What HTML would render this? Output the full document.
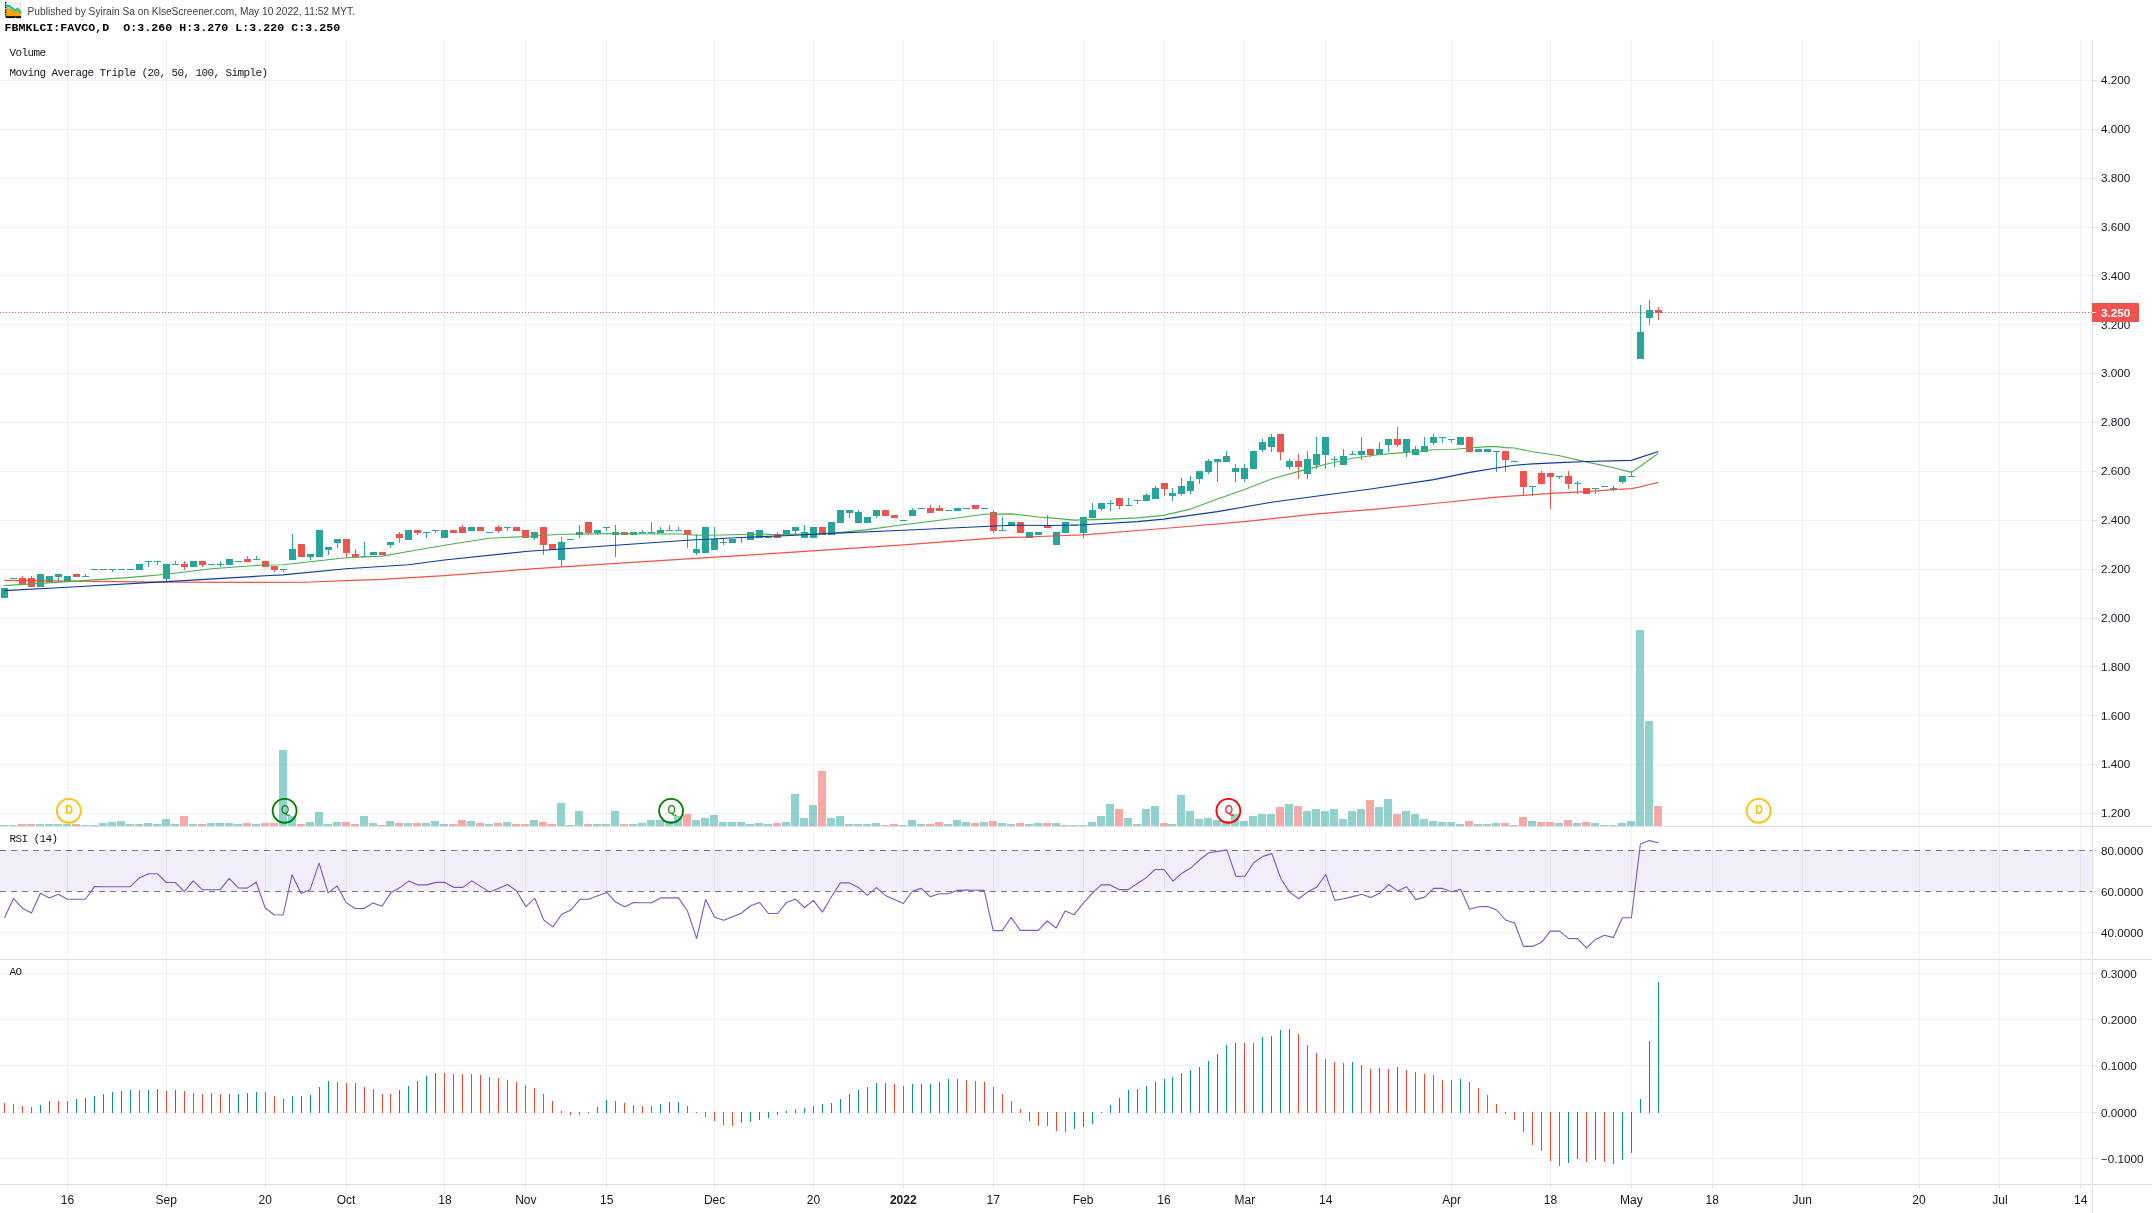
<!DOCTYPE html>
<html><head><meta charset="utf-8"><title>FBMKLCI:FAVCO</title>
<style>
html,body{margin:0;padding:0;background:#fff;}
body{width:2152px;height:1213px;overflow:hidden;position:relative;font-family:"Liberation Sans",sans-serif;}
svg text{white-space:pre;}
</style></head><body>
<svg width="2152" height="1213" viewBox="0 0 2152 1213" style="position:absolute;left:0;top:0;will-change:transform">
<rect width="2152" height="1213" fill="#fff"/>
<g shape-rendering="crispEdges">
<rect x="0" y="850" width="2092" height="41" fill="#f2eef9"/>
<rect x="67" y="40" width="1" height="1144" fill="#1e2828" fill-opacity="0.058"/>
<rect x="67" y="1185" width="1" height="3" fill="#dddfe2"/>
<rect x="166" y="40" width="1" height="1144" fill="#1e2828" fill-opacity="0.058"/>
<rect x="166" y="1185" width="1" height="3" fill="#dddfe2"/>
<rect x="265" y="40" width="1" height="1144" fill="#1e2828" fill-opacity="0.058"/>
<rect x="265" y="1185" width="1" height="3" fill="#dddfe2"/>
<rect x="346" y="40" width="1" height="1144" fill="#1e2828" fill-opacity="0.058"/>
<rect x="346" y="1185" width="1" height="3" fill="#dddfe2"/>
<rect x="444" y="40" width="1" height="1144" fill="#1e2828" fill-opacity="0.058"/>
<rect x="444" y="1185" width="1" height="3" fill="#dddfe2"/>
<rect x="525" y="40" width="1" height="1144" fill="#1e2828" fill-opacity="0.058"/>
<rect x="525" y="1185" width="1" height="3" fill="#dddfe2"/>
<rect x="606" y="40" width="1" height="1144" fill="#1e2828" fill-opacity="0.058"/>
<rect x="606" y="1185" width="1" height="3" fill="#dddfe2"/>
<rect x="714" y="40" width="1" height="1144" fill="#1e2828" fill-opacity="0.058"/>
<rect x="714" y="1185" width="1" height="3" fill="#dddfe2"/>
<rect x="813" y="40" width="1" height="1144" fill="#1e2828" fill-opacity="0.058"/>
<rect x="813" y="1185" width="1" height="3" fill="#dddfe2"/>
<rect x="903" y="40" width="1" height="1144" fill="#1e2828" fill-opacity="0.058"/>
<rect x="903" y="1185" width="1" height="3" fill="#dddfe2"/>
<rect x="993" y="40" width="1" height="1144" fill="#1e2828" fill-opacity="0.058"/>
<rect x="993" y="1185" width="1" height="3" fill="#dddfe2"/>
<rect x="1083" y="40" width="1" height="1144" fill="#1e2828" fill-opacity="0.058"/>
<rect x="1083" y="1185" width="1" height="3" fill="#dddfe2"/>
<rect x="1164" y="40" width="1" height="1144" fill="#1e2828" fill-opacity="0.058"/>
<rect x="1164" y="1185" width="1" height="3" fill="#dddfe2"/>
<rect x="1244" y="40" width="1" height="1144" fill="#1e2828" fill-opacity="0.058"/>
<rect x="1244" y="1185" width="1" height="3" fill="#dddfe2"/>
<rect x="1325" y="40" width="1" height="1144" fill="#1e2828" fill-opacity="0.058"/>
<rect x="1325" y="1185" width="1" height="3" fill="#dddfe2"/>
<rect x="1451" y="40" width="1" height="1144" fill="#1e2828" fill-opacity="0.058"/>
<rect x="1451" y="1185" width="1" height="3" fill="#dddfe2"/>
<rect x="1550" y="40" width="1" height="1144" fill="#1e2828" fill-opacity="0.058"/>
<rect x="1550" y="1185" width="1" height="3" fill="#dddfe2"/>
<rect x="1631" y="40" width="1" height="1144" fill="#1e2828" fill-opacity="0.058"/>
<rect x="1631" y="1185" width="1" height="3" fill="#dddfe2"/>
<rect x="1712" y="40" width="1" height="1144" fill="#1e2828" fill-opacity="0.058"/>
<rect x="1712" y="1185" width="1" height="3" fill="#dddfe2"/>
<rect x="1802" y="40" width="1" height="1144" fill="#1e2828" fill-opacity="0.058"/>
<rect x="1802" y="1185" width="1" height="3" fill="#dddfe2"/>
<rect x="1919" y="40" width="1" height="1144" fill="#1e2828" fill-opacity="0.058"/>
<rect x="1919" y="1185" width="1" height="3" fill="#dddfe2"/>
<rect x="1999" y="40" width="1" height="1144" fill="#1e2828" fill-opacity="0.058"/>
<rect x="1999" y="1185" width="1" height="3" fill="#dddfe2"/>
<rect x="2080" y="40" width="1" height="1144" fill="#1e2828" fill-opacity="0.058"/>
<rect x="2080" y="1185" width="1" height="3" fill="#dddfe2"/>
<rect x="0" y="80" width="2092" height="1" fill="#1e2828" fill-opacity="0.058"/>
<rect x="2093" y="80" width="4" height="1" fill="#dddfe2"/>
<rect x="0" y="129" width="2092" height="1" fill="#1e2828" fill-opacity="0.058"/>
<rect x="2093" y="129" width="4" height="1" fill="#dddfe2"/>
<rect x="0" y="178" width="2092" height="1" fill="#1e2828" fill-opacity="0.058"/>
<rect x="2093" y="178" width="4" height="1" fill="#dddfe2"/>
<rect x="0" y="227" width="2092" height="1" fill="#1e2828" fill-opacity="0.058"/>
<rect x="2093" y="227" width="4" height="1" fill="#dddfe2"/>
<rect x="0" y="275" width="2092" height="1" fill="#1e2828" fill-opacity="0.058"/>
<rect x="2093" y="275" width="4" height="1" fill="#dddfe2"/>
<rect x="0" y="324" width="2092" height="1" fill="#1e2828" fill-opacity="0.058"/>
<rect x="2093" y="324" width="4" height="1" fill="#dddfe2"/>
<rect x="0" y="373" width="2092" height="1" fill="#1e2828" fill-opacity="0.058"/>
<rect x="2093" y="373" width="4" height="1" fill="#dddfe2"/>
<rect x="0" y="422" width="2092" height="1" fill="#1e2828" fill-opacity="0.058"/>
<rect x="2093" y="422" width="4" height="1" fill="#dddfe2"/>
<rect x="0" y="471" width="2092" height="1" fill="#1e2828" fill-opacity="0.058"/>
<rect x="2093" y="471" width="4" height="1" fill="#dddfe2"/>
<rect x="0" y="520" width="2092" height="1" fill="#1e2828" fill-opacity="0.058"/>
<rect x="2093" y="520" width="4" height="1" fill="#dddfe2"/>
<rect x="0" y="569" width="2092" height="1" fill="#1e2828" fill-opacity="0.058"/>
<rect x="2093" y="569" width="4" height="1" fill="#dddfe2"/>
<rect x="0" y="618" width="2092" height="1" fill="#1e2828" fill-opacity="0.058"/>
<rect x="2093" y="618" width="4" height="1" fill="#dddfe2"/>
<rect x="0" y="666" width="2092" height="1" fill="#1e2828" fill-opacity="0.058"/>
<rect x="2093" y="666" width="4" height="1" fill="#dddfe2"/>
<rect x="0" y="715" width="2092" height="1" fill="#1e2828" fill-opacity="0.058"/>
<rect x="2093" y="715" width="4" height="1" fill="#dddfe2"/>
<rect x="0" y="764" width="2092" height="1" fill="#1e2828" fill-opacity="0.058"/>
<rect x="2093" y="764" width="4" height="1" fill="#dddfe2"/>
<rect x="0" y="813" width="2092" height="1" fill="#1e2828" fill-opacity="0.058"/>
<rect x="2093" y="813" width="4" height="1" fill="#dddfe2"/>
<rect x="0" y="932" width="2092" height="1" fill="#1e2828" fill-opacity="0.058"/>
<rect x="2093" y="850" width="4" height="1" fill="#dddfe2"/>
<rect x="2093" y="891" width="4" height="1" fill="#dddfe2"/>
<rect x="2093" y="932" width="4" height="1" fill="#dddfe2"/>
<rect x="0" y="973" width="2092" height="1" fill="#1e2828" fill-opacity="0.058"/>
<rect x="2093" y="973" width="4" height="1" fill="#dddfe2"/>
<rect x="0" y="1019" width="2092" height="1" fill="#1e2828" fill-opacity="0.058"/>
<rect x="2093" y="1019" width="4" height="1" fill="#dddfe2"/>
<rect x="0" y="1065" width="2092" height="1" fill="#1e2828" fill-opacity="0.058"/>
<rect x="2093" y="1065" width="4" height="1" fill="#dddfe2"/>
<rect x="0" y="1112" width="2092" height="1" fill="#1e2828" fill-opacity="0.058"/>
<rect x="2093" y="1112" width="4" height="1" fill="#dddfe2"/>
<rect x="0" y="1158" width="2092" height="1" fill="#1e2828" fill-opacity="0.058"/>
<rect x="2093" y="1158" width="4" height="1" fill="#dddfe2"/>
<rect x="0" y="826" width="2152" height="1" fill="#dddfe2"/>
<rect x="0" y="959" width="2152" height="1" fill="#dddfe2"/>
<rect x="0" y="1184" width="2152" height="1" fill="#dddfe2"/>
<rect x="2092" y="40" width="1" height="1173" fill="#dddfe2"/>
</g>
<line x1="0" y1="850.5" x2="2092" y2="850.5" stroke="#787b86" stroke-width="1" stroke-dasharray="6 5" shape-rendering="crispEdges"/>
<line x1="0" y1="891.5" x2="2092" y2="891.5" stroke="#787b86" stroke-width="1" stroke-dasharray="6 5" shape-rendering="crispEdges"/>
<g shape-rendering="crispEdges">
<rect x="0" y="825" width="8" height="1" fill="#26a69a" fill-opacity="0.5"/>
<rect x="9" y="825" width="8" height="1" fill="#26a69a" fill-opacity="0.5"/>
<rect x="18" y="824" width="8" height="2" fill="#ef5350" fill-opacity="0.5"/>
<rect x="27" y="824" width="8" height="2" fill="#ef5350" fill-opacity="0.5"/>
<rect x="36" y="824" width="8" height="2" fill="#26a69a" fill-opacity="0.5"/>
<rect x="45" y="824" width="8" height="2" fill="#26a69a" fill-opacity="0.5"/>
<rect x="54" y="824" width="8" height="2" fill="#26a69a" fill-opacity="0.5"/>
<rect x="63" y="824" width="8" height="2" fill="#26a69a" fill-opacity="0.5"/>
<rect x="72" y="824" width="8" height="2" fill="#ef5350" fill-opacity="0.5"/>
<rect x="81" y="825" width="8" height="1" fill="#26a69a" fill-opacity="0.5"/>
<rect x="90" y="825" width="8" height="1" fill="#26a69a" fill-opacity="0.5"/>
<rect x="99" y="823" width="8" height="3" fill="#26a69a" fill-opacity="0.5"/>
<rect x="108" y="822" width="8" height="4" fill="#26a69a" fill-opacity="0.5"/>
<rect x="117" y="821" width="8" height="5" fill="#26a69a" fill-opacity="0.5"/>
<rect x="126" y="824" width="8" height="2" fill="#26a69a" fill-opacity="0.5"/>
<rect x="135" y="824" width="8" height="2" fill="#26a69a" fill-opacity="0.5"/>
<rect x="144" y="823" width="8" height="3" fill="#26a69a" fill-opacity="0.5"/>
<rect x="153" y="824" width="8" height="2" fill="#26a69a" fill-opacity="0.5"/>
<rect x="162" y="819" width="8" height="7" fill="#26a69a" fill-opacity="0.5"/>
<rect x="171" y="824" width="8" height="2" fill="#26a69a" fill-opacity="0.5"/>
<rect x="180" y="816" width="8" height="10" fill="#ef5350" fill-opacity="0.5"/>
<rect x="189" y="824" width="8" height="2" fill="#26a69a" fill-opacity="0.5"/>
<rect x="198" y="824" width="8" height="2" fill="#ef5350" fill-opacity="0.5"/>
<rect x="207" y="823" width="8" height="3" fill="#26a69a" fill-opacity="0.5"/>
<rect x="216" y="823" width="8" height="3" fill="#26a69a" fill-opacity="0.5"/>
<rect x="225" y="823" width="8" height="3" fill="#26a69a" fill-opacity="0.5"/>
<rect x="234" y="824" width="8" height="2" fill="#26a69a" fill-opacity="0.5"/>
<rect x="243" y="823" width="8" height="3" fill="#ef5350" fill-opacity="0.5"/>
<rect x="252" y="824" width="8" height="2" fill="#26a69a" fill-opacity="0.5"/>
<rect x="261" y="823" width="8" height="3" fill="#ef5350" fill-opacity="0.5"/>
<rect x="270" y="823" width="8" height="3" fill="#ef5350" fill-opacity="0.5"/>
<rect x="279" y="750" width="8" height="76" fill="#26a69a" fill-opacity="0.5"/>
<rect x="288" y="816" width="8" height="10" fill="#26a69a" fill-opacity="0.5"/>
<rect x="297" y="824" width="8" height="2" fill="#ef5350" fill-opacity="0.5"/>
<rect x="306" y="822" width="8" height="4" fill="#26a69a" fill-opacity="0.5"/>
<rect x="315" y="812" width="8" height="14" fill="#26a69a" fill-opacity="0.5"/>
<rect x="324" y="824" width="8" height="2" fill="#26a69a" fill-opacity="0.5"/>
<rect x="333" y="822" width="8" height="4" fill="#26a69a" fill-opacity="0.5"/>
<rect x="342" y="822" width="8" height="4" fill="#ef5350" fill-opacity="0.5"/>
<rect x="351" y="824" width="8" height="2" fill="#ef5350" fill-opacity="0.5"/>
<rect x="360" y="816" width="8" height="10" fill="#26a69a" fill-opacity="0.5"/>
<rect x="369" y="823" width="8" height="3" fill="#26a69a" fill-opacity="0.5"/>
<rect x="378" y="825" width="8" height="1" fill="#ef5350" fill-opacity="0.5"/>
<rect x="386" y="821" width="8" height="5" fill="#26a69a" fill-opacity="0.5"/>
<rect x="395" y="823" width="8" height="3" fill="#ef5350" fill-opacity="0.5"/>
<rect x="404" y="823" width="8" height="3" fill="#26a69a" fill-opacity="0.5"/>
<rect x="413" y="823" width="8" height="3" fill="#ef5350" fill-opacity="0.5"/>
<rect x="422" y="823" width="8" height="3" fill="#26a69a" fill-opacity="0.5"/>
<rect x="431" y="821" width="8" height="5" fill="#26a69a" fill-opacity="0.5"/>
<rect x="440" y="824" width="8" height="2" fill="#26a69a" fill-opacity="0.5"/>
<rect x="449" y="824" width="8" height="2" fill="#ef5350" fill-opacity="0.5"/>
<rect x="458" y="820" width="8" height="6" fill="#ef5350" fill-opacity="0.5"/>
<rect x="467" y="821" width="8" height="5" fill="#26a69a" fill-opacity="0.5"/>
<rect x="476" y="823" width="8" height="3" fill="#ef5350" fill-opacity="0.5"/>
<rect x="485" y="824" width="8" height="2" fill="#26a69a" fill-opacity="0.5"/>
<rect x="494" y="823" width="8" height="3" fill="#ef5350" fill-opacity="0.5"/>
<rect x="503" y="822" width="8" height="4" fill="#26a69a" fill-opacity="0.5"/>
<rect x="512" y="824" width="8" height="2" fill="#ef5350" fill-opacity="0.5"/>
<rect x="521" y="824" width="8" height="2" fill="#ef5350" fill-opacity="0.5"/>
<rect x="530" y="820" width="8" height="6" fill="#26a69a" fill-opacity="0.5"/>
<rect x="539" y="822" width="8" height="4" fill="#ef5350" fill-opacity="0.5"/>
<rect x="548" y="824" width="8" height="2" fill="#ef5350" fill-opacity="0.5"/>
<rect x="557" y="803" width="8" height="23" fill="#26a69a" fill-opacity="0.5"/>
<rect x="566" y="825" width="8" height="1" fill="#26a69a" fill-opacity="0.5"/>
<rect x="575" y="811" width="8" height="15" fill="#26a69a" fill-opacity="0.5"/>
<rect x="584" y="824" width="8" height="2" fill="#ef5350" fill-opacity="0.5"/>
<rect x="593" y="824" width="8" height="2" fill="#26a69a" fill-opacity="0.5"/>
<rect x="602" y="824" width="8" height="2" fill="#26a69a" fill-opacity="0.5"/>
<rect x="611" y="811" width="8" height="15" fill="#26a69a" fill-opacity="0.5"/>
<rect x="620" y="824" width="8" height="2" fill="#ef5350" fill-opacity="0.5"/>
<rect x="629" y="824" width="8" height="2" fill="#26a69a" fill-opacity="0.5"/>
<rect x="638" y="823" width="8" height="3" fill="#26a69a" fill-opacity="0.5"/>
<rect x="647" y="820" width="8" height="6" fill="#26a69a" fill-opacity="0.5"/>
<rect x="656" y="820" width="8" height="6" fill="#26a69a" fill-opacity="0.5"/>
<rect x="665" y="821" width="8" height="5" fill="#26a69a" fill-opacity="0.5"/>
<rect x="674" y="816" width="8" height="10" fill="#26a69a" fill-opacity="0.5"/>
<rect x="683" y="814" width="8" height="12" fill="#ef5350" fill-opacity="0.5"/>
<rect x="692" y="820" width="8" height="6" fill="#26a69a" fill-opacity="0.5"/>
<rect x="701" y="818" width="8" height="8" fill="#26a69a" fill-opacity="0.5"/>
<rect x="710" y="815" width="8" height="11" fill="#26a69a" fill-opacity="0.5"/>
<rect x="719" y="822" width="8" height="4" fill="#26a69a" fill-opacity="0.5"/>
<rect x="728" y="822" width="8" height="4" fill="#26a69a" fill-opacity="0.5"/>
<rect x="737" y="822" width="8" height="4" fill="#26a69a" fill-opacity="0.5"/>
<rect x="746" y="824" width="8" height="2" fill="#26a69a" fill-opacity="0.5"/>
<rect x="755" y="823" width="8" height="3" fill="#26a69a" fill-opacity="0.5"/>
<rect x="764" y="824" width="8" height="2" fill="#26a69a" fill-opacity="0.5"/>
<rect x="773" y="823" width="8" height="3" fill="#ef5350" fill-opacity="0.5"/>
<rect x="782" y="822" width="8" height="4" fill="#26a69a" fill-opacity="0.5"/>
<rect x="791" y="794" width="8" height="32" fill="#26a69a" fill-opacity="0.5"/>
<rect x="800" y="818" width="8" height="8" fill="#26a69a" fill-opacity="0.5"/>
<rect x="809" y="805" width="8" height="21" fill="#26a69a" fill-opacity="0.5"/>
<rect x="818" y="771" width="8" height="55" fill="#ef5350" fill-opacity="0.5"/>
<rect x="827" y="818" width="8" height="8" fill="#26a69a" fill-opacity="0.5"/>
<rect x="836" y="816" width="8" height="10" fill="#26a69a" fill-opacity="0.5"/>
<rect x="845" y="824" width="8" height="2" fill="#26a69a" fill-opacity="0.5"/>
<rect x="854" y="824" width="8" height="2" fill="#26a69a" fill-opacity="0.5"/>
<rect x="863" y="824" width="8" height="2" fill="#26a69a" fill-opacity="0.5"/>
<rect x="872" y="823" width="8" height="3" fill="#26a69a" fill-opacity="0.5"/>
<rect x="881" y="825" width="8" height="1" fill="#ef5350" fill-opacity="0.5"/>
<rect x="890" y="824" width="8" height="2" fill="#ef5350" fill-opacity="0.5"/>
<rect x="899" y="825" width="8" height="1" fill="#26a69a" fill-opacity="0.5"/>
<rect x="908" y="820" width="8" height="6" fill="#26a69a" fill-opacity="0.5"/>
<rect x="917" y="824" width="8" height="2" fill="#26a69a" fill-opacity="0.5"/>
<rect x="926" y="824" width="8" height="2" fill="#ef5350" fill-opacity="0.5"/>
<rect x="935" y="822" width="8" height="4" fill="#ef5350" fill-opacity="0.5"/>
<rect x="944" y="824" width="8" height="2" fill="#26a69a" fill-opacity="0.5"/>
<rect x="953" y="820" width="8" height="6" fill="#26a69a" fill-opacity="0.5"/>
<rect x="962" y="822" width="8" height="4" fill="#26a69a" fill-opacity="0.5"/>
<rect x="971" y="823" width="8" height="3" fill="#ef5350" fill-opacity="0.5"/>
<rect x="980" y="822" width="8" height="4" fill="#26a69a" fill-opacity="0.5"/>
<rect x="989" y="821" width="8" height="5" fill="#ef5350" fill-opacity="0.5"/>
<rect x="998" y="823" width="8" height="3" fill="#26a69a" fill-opacity="0.5"/>
<rect x="1007" y="824" width="8" height="2" fill="#26a69a" fill-opacity="0.5"/>
<rect x="1016" y="823" width="8" height="3" fill="#ef5350" fill-opacity="0.5"/>
<rect x="1025" y="824" width="8" height="2" fill="#26a69a" fill-opacity="0.5"/>
<rect x="1034" y="823" width="8" height="3" fill="#26a69a" fill-opacity="0.5"/>
<rect x="1043" y="823" width="8" height="3" fill="#ef5350" fill-opacity="0.5"/>
<rect x="1052" y="823" width="8" height="3" fill="#26a69a" fill-opacity="0.5"/>
<rect x="1061" y="825" width="8" height="1" fill="#26a69a" fill-opacity="0.5"/>
<rect x="1070" y="825" width="8" height="1" fill="#26a69a" fill-opacity="0.5"/>
<rect x="1079" y="825" width="8" height="1" fill="#26a69a" fill-opacity="0.5"/>
<rect x="1088" y="822" width="8" height="4" fill="#26a69a" fill-opacity="0.5"/>
<rect x="1097" y="816" width="8" height="10" fill="#26a69a" fill-opacity="0.5"/>
<rect x="1106" y="804" width="8" height="22" fill="#26a69a" fill-opacity="0.5"/>
<rect x="1115" y="809" width="8" height="17" fill="#ef5350" fill-opacity="0.5"/>
<rect x="1124" y="818" width="8" height="8" fill="#26a69a" fill-opacity="0.5"/>
<rect x="1133" y="824" width="8" height="2" fill="#26a69a" fill-opacity="0.5"/>
<rect x="1142" y="809" width="8" height="17" fill="#26a69a" fill-opacity="0.5"/>
<rect x="1151" y="806" width="8" height="20" fill="#26a69a" fill-opacity="0.5"/>
<rect x="1160" y="823" width="8" height="3" fill="#ef5350" fill-opacity="0.5"/>
<rect x="1168" y="824" width="8" height="2" fill="#26a69a" fill-opacity="0.5"/>
<rect x="1177" y="795" width="8" height="31" fill="#26a69a" fill-opacity="0.5"/>
<rect x="1186" y="811" width="8" height="15" fill="#26a69a" fill-opacity="0.5"/>
<rect x="1195" y="819" width="8" height="7" fill="#26a69a" fill-opacity="0.5"/>
<rect x="1204" y="818" width="8" height="8" fill="#26a69a" fill-opacity="0.5"/>
<rect x="1213" y="820" width="8" height="6" fill="#26a69a" fill-opacity="0.5"/>
<rect x="1222" y="821" width="8" height="5" fill="#26a69a" fill-opacity="0.5"/>
<rect x="1231" y="814" width="8" height="12" fill="#26a69a" fill-opacity="0.5"/>
<rect x="1240" y="821" width="8" height="5" fill="#26a69a" fill-opacity="0.5"/>
<rect x="1249" y="816" width="8" height="10" fill="#26a69a" fill-opacity="0.5"/>
<rect x="1258" y="814" width="8" height="12" fill="#26a69a" fill-opacity="0.5"/>
<rect x="1267" y="814" width="8" height="12" fill="#26a69a" fill-opacity="0.5"/>
<rect x="1276" y="807" width="8" height="19" fill="#ef5350" fill-opacity="0.5"/>
<rect x="1285" y="804" width="8" height="22" fill="#26a69a" fill-opacity="0.5"/>
<rect x="1294" y="806" width="8" height="20" fill="#ef5350" fill-opacity="0.5"/>
<rect x="1303" y="811" width="8" height="15" fill="#26a69a" fill-opacity="0.5"/>
<rect x="1312" y="809" width="8" height="17" fill="#26a69a" fill-opacity="0.5"/>
<rect x="1321" y="811" width="8" height="15" fill="#26a69a" fill-opacity="0.5"/>
<rect x="1330" y="809" width="8" height="17" fill="#26a69a" fill-opacity="0.5"/>
<rect x="1339" y="819" width="8" height="7" fill="#26a69a" fill-opacity="0.5"/>
<rect x="1348" y="811" width="8" height="15" fill="#26a69a" fill-opacity="0.5"/>
<rect x="1357" y="809" width="8" height="17" fill="#26a69a" fill-opacity="0.5"/>
<rect x="1366" y="800" width="8" height="26" fill="#ef5350" fill-opacity="0.5"/>
<rect x="1375" y="807" width="8" height="19" fill="#26a69a" fill-opacity="0.5"/>
<rect x="1384" y="799" width="8" height="27" fill="#26a69a" fill-opacity="0.5"/>
<rect x="1393" y="814" width="8" height="12" fill="#ef5350" fill-opacity="0.5"/>
<rect x="1402" y="811" width="8" height="15" fill="#26a69a" fill-opacity="0.5"/>
<rect x="1411" y="814" width="8" height="12" fill="#26a69a" fill-opacity="0.5"/>
<rect x="1420" y="819" width="8" height="7" fill="#26a69a" fill-opacity="0.5"/>
<rect x="1429" y="821" width="8" height="5" fill="#26a69a" fill-opacity="0.5"/>
<rect x="1438" y="822" width="8" height="4" fill="#26a69a" fill-opacity="0.5"/>
<rect x="1447" y="822" width="8" height="4" fill="#26a69a" fill-opacity="0.5"/>
<rect x="1456" y="824" width="8" height="2" fill="#26a69a" fill-opacity="0.5"/>
<rect x="1465" y="821" width="8" height="5" fill="#ef5350" fill-opacity="0.5"/>
<rect x="1474" y="824" width="8" height="2" fill="#26a69a" fill-opacity="0.5"/>
<rect x="1483" y="824" width="8" height="2" fill="#26a69a" fill-opacity="0.5"/>
<rect x="1492" y="823" width="8" height="3" fill="#26a69a" fill-opacity="0.5"/>
<rect x="1501" y="823" width="8" height="3" fill="#ef5350" fill-opacity="0.5"/>
<rect x="1510" y="825" width="8" height="1" fill="#26a69a" fill-opacity="0.5"/>
<rect x="1519" y="817" width="8" height="9" fill="#ef5350" fill-opacity="0.5"/>
<rect x="1528" y="821" width="8" height="5" fill="#26a69a" fill-opacity="0.5"/>
<rect x="1537" y="822" width="8" height="4" fill="#ef5350" fill-opacity="0.5"/>
<rect x="1546" y="822" width="8" height="4" fill="#ef5350" fill-opacity="0.5"/>
<rect x="1555" y="823" width="8" height="3" fill="#26a69a" fill-opacity="0.5"/>
<rect x="1564" y="820" width="8" height="6" fill="#ef5350" fill-opacity="0.5"/>
<rect x="1573" y="823" width="8" height="3" fill="#26a69a" fill-opacity="0.5"/>
<rect x="1582" y="822" width="8" height="4" fill="#ef5350" fill-opacity="0.5"/>
<rect x="1591" y="823" width="8" height="3" fill="#26a69a" fill-opacity="0.5"/>
<rect x="1600" y="825" width="8" height="1" fill="#26a69a" fill-opacity="0.5"/>
<rect x="1609" y="825" width="8" height="1" fill="#26a69a" fill-opacity="0.5"/>
<rect x="1618" y="823" width="8" height="3" fill="#26a69a" fill-opacity="0.5"/>
<rect x="1627" y="821" width="8" height="5" fill="#26a69a" fill-opacity="0.5"/>
<rect x="1636" y="630" width="8" height="196" fill="#26a69a" fill-opacity="0.5"/>
<rect x="1645" y="721" width="8" height="105" fill="#26a69a" fill-opacity="0.5"/>
<rect x="1654" y="806" width="8" height="20" fill="#ef5350" fill-opacity="0.5"/>
</g>
<g shape-rendering="crispEdges">
<rect x="1" y="588" width="7" height="10" fill="#26a69a"/>
<rect x="10" y="578" width="7" height="1" fill="#26a69a"/>
<rect x="22" y="576" width="1" height="8" fill="#ef5350"/>
<rect x="19" y="578" width="7" height="6" fill="#ef5350"/>
<rect x="31" y="576" width="1" height="11" fill="#ef5350"/>
<rect x="28" y="578" width="7" height="9" fill="#ef5350"/>
<rect x="37" y="574" width="7" height="13" fill="#26a69a"/>
<rect x="46" y="576" width="7" height="6" fill="#26a69a"/>
<rect x="58" y="574" width="1" height="8" fill="#26a69a"/>
<rect x="55" y="574" width="7" height="3" fill="#26a69a"/>
<rect x="64" y="576" width="7" height="6" fill="#26a69a"/>
<rect x="73" y="574" width="7" height="3" fill="#ef5350"/>
<rect x="85" y="574" width="1" height="3" fill="#26a69a"/>
<rect x="82" y="576" width="7" height="1" fill="#26a69a"/>
<rect x="91" y="569" width="7" height="1" fill="#26a69a"/>
<rect x="100" y="569" width="7" height="1" fill="#26a69a"/>
<rect x="112" y="569" width="1" height="3" fill="#26a69a"/>
<rect x="109" y="569" width="7" height="1" fill="#26a69a"/>
<rect x="118" y="569" width="7" height="1" fill="#26a69a"/>
<rect x="127" y="569" width="7" height="1" fill="#26a69a"/>
<rect x="136" y="564" width="7" height="6" fill="#26a69a"/>
<rect x="148" y="561" width="1" height="6" fill="#26a69a"/>
<rect x="145" y="561" width="7" height="1" fill="#26a69a"/>
<rect x="157" y="561" width="1" height="4" fill="#26a69a"/>
<rect x="154" y="561" width="7" height="1" fill="#26a69a"/>
<rect x="166" y="564" width="1" height="18" fill="#26a69a"/>
<rect x="163" y="564" width="7" height="15" fill="#26a69a"/>
<rect x="175" y="561" width="1" height="4" fill="#26a69a"/>
<rect x="172" y="564" width="7" height="1" fill="#26a69a"/>
<rect x="184" y="561" width="1" height="9" fill="#ef5350"/>
<rect x="181" y="564" width="7" height="3" fill="#ef5350"/>
<rect x="190" y="561" width="7" height="6" fill="#26a69a"/>
<rect x="202" y="561" width="1" height="6" fill="#ef5350"/>
<rect x="199" y="561" width="7" height="4" fill="#ef5350"/>
<rect x="208" y="564" width="7" height="1" fill="#26a69a"/>
<rect x="220" y="561" width="1" height="6" fill="#26a69a"/>
<rect x="217" y="564" width="7" height="1" fill="#26a69a"/>
<rect x="226" y="559" width="7" height="6" fill="#26a69a"/>
<rect x="235" y="561" width="7" height="1" fill="#26a69a"/>
<rect x="247" y="556" width="1" height="6" fill="#ef5350"/>
<rect x="244" y="559" width="7" height="3" fill="#ef5350"/>
<rect x="256" y="556" width="1" height="4" fill="#26a69a"/>
<rect x="253" y="559" width="7" height="1" fill="#26a69a"/>
<rect x="262" y="561" width="7" height="6" fill="#ef5350"/>
<rect x="274" y="566" width="1" height="6" fill="#ef5350"/>
<rect x="271" y="566" width="7" height="4" fill="#ef5350"/>
<rect x="283" y="569" width="1" height="3" fill="#26a69a"/>
<rect x="280" y="569" width="7" height="1" fill="#26a69a"/>
<rect x="292" y="534" width="1" height="26" fill="#26a69a"/>
<rect x="289" y="549" width="7" height="11" fill="#26a69a"/>
<rect x="298" y="544" width="7" height="13" fill="#ef5350"/>
<rect x="310" y="554" width="1" height="6" fill="#26a69a"/>
<rect x="307" y="554" width="7" height="3" fill="#26a69a"/>
<rect x="316" y="530" width="7" height="27" fill="#26a69a"/>
<rect x="328" y="547" width="1" height="8" fill="#26a69a"/>
<rect x="325" y="547" width="7" height="3" fill="#26a69a"/>
<rect x="337" y="539" width="1" height="9" fill="#26a69a"/>
<rect x="334" y="539" width="7" height="4" fill="#26a69a"/>
<rect x="346" y="539" width="1" height="18" fill="#ef5350"/>
<rect x="343" y="539" width="7" height="14" fill="#ef5350"/>
<rect x="355" y="549" width="1" height="8" fill="#ef5350"/>
<rect x="352" y="554" width="7" height="3" fill="#ef5350"/>
<rect x="364" y="542" width="1" height="15" fill="#26a69a"/>
<rect x="361" y="556" width="7" height="1" fill="#26a69a"/>
<rect x="370" y="552" width="7" height="3" fill="#26a69a"/>
<rect x="379" y="552" width="7" height="3" fill="#ef5350"/>
<rect x="390" y="542" width="1" height="6" fill="#26a69a"/>
<rect x="387" y="542" width="7" height="3" fill="#26a69a"/>
<rect x="399" y="532" width="1" height="11" fill="#ef5350"/>
<rect x="396" y="534" width="7" height="4" fill="#ef5350"/>
<rect x="405" y="530" width="7" height="10" fill="#26a69a"/>
<rect x="417" y="530" width="1" height="5" fill="#ef5350"/>
<rect x="414" y="530" width="7" height="3" fill="#ef5350"/>
<rect x="426" y="532" width="1" height="6" fill="#26a69a"/>
<rect x="423" y="532" width="7" height="1" fill="#26a69a"/>
<rect x="435" y="530" width="1" height="3" fill="#26a69a"/>
<rect x="432" y="530" width="7" height="1" fill="#26a69a"/>
<rect x="441" y="530" width="7" height="8" fill="#26a69a"/>
<rect x="450" y="530" width="7" height="3" fill="#ef5350"/>
<rect x="462" y="525" width="1" height="8" fill="#ef5350"/>
<rect x="459" y="527" width="7" height="6" fill="#ef5350"/>
<rect x="468" y="527" width="7" height="4" fill="#26a69a"/>
<rect x="477" y="527" width="7" height="4" fill="#ef5350"/>
<rect x="486" y="532" width="7" height="1" fill="#26a69a"/>
<rect x="498" y="525" width="1" height="8" fill="#ef5350"/>
<rect x="495" y="527" width="7" height="4" fill="#ef5350"/>
<rect x="507" y="527" width="1" height="4" fill="#26a69a"/>
<rect x="504" y="527" width="7" height="1" fill="#26a69a"/>
<rect x="513" y="527" width="7" height="4" fill="#ef5350"/>
<rect x="522" y="530" width="7" height="8" fill="#ef5350"/>
<rect x="534" y="532" width="1" height="8" fill="#26a69a"/>
<rect x="531" y="532" width="7" height="6" fill="#26a69a"/>
<rect x="543" y="527" width="1" height="28" fill="#ef5350"/>
<rect x="540" y="527" width="7" height="18" fill="#ef5350"/>
<rect x="549" y="544" width="7" height="6" fill="#ef5350"/>
<rect x="561" y="537" width="1" height="30" fill="#26a69a"/>
<rect x="558" y="542" width="7" height="18" fill="#26a69a"/>
<rect x="567" y="539" width="7" height="1" fill="#26a69a"/>
<rect x="579" y="525" width="1" height="13" fill="#26a69a"/>
<rect x="576" y="532" width="7" height="3" fill="#26a69a"/>
<rect x="588" y="522" width="1" height="13" fill="#ef5350"/>
<rect x="585" y="522" width="7" height="11" fill="#ef5350"/>
<rect x="597" y="530" width="1" height="5" fill="#26a69a"/>
<rect x="594" y="530" width="7" height="3" fill="#26a69a"/>
<rect x="606" y="527" width="1" height="4" fill="#26a69a"/>
<rect x="603" y="527" width="7" height="1" fill="#26a69a"/>
<rect x="615" y="525" width="1" height="32" fill="#26a69a"/>
<rect x="612" y="532" width="7" height="3" fill="#26a69a"/>
<rect x="621" y="532" width="7" height="3" fill="#ef5350"/>
<rect x="630" y="532" width="7" height="3" fill="#26a69a"/>
<rect x="642" y="530" width="1" height="3" fill="#26a69a"/>
<rect x="639" y="532" width="7" height="1" fill="#26a69a"/>
<rect x="651" y="522" width="1" height="11" fill="#26a69a"/>
<rect x="648" y="532" width="7" height="1" fill="#26a69a"/>
<rect x="660" y="527" width="1" height="6" fill="#26a69a"/>
<rect x="657" y="530" width="7" height="3" fill="#26a69a"/>
<rect x="669" y="525" width="1" height="6" fill="#26a69a"/>
<rect x="666" y="530" width="7" height="1" fill="#26a69a"/>
<rect x="678" y="527" width="1" height="4" fill="#26a69a"/>
<rect x="675" y="530" width="7" height="1" fill="#26a69a"/>
<rect x="687" y="530" width="1" height="18" fill="#ef5350"/>
<rect x="684" y="530" width="7" height="5" fill="#ef5350"/>
<rect x="696" y="534" width="1" height="21" fill="#26a69a"/>
<rect x="693" y="549" width="7" height="4" fill="#26a69a"/>
<rect x="702" y="527" width="7" height="26" fill="#26a69a"/>
<rect x="714" y="527" width="1" height="23" fill="#26a69a"/>
<rect x="711" y="539" width="7" height="11" fill="#26a69a"/>
<rect x="723" y="539" width="1" height="6" fill="#26a69a"/>
<rect x="720" y="542" width="7" height="1" fill="#26a69a"/>
<rect x="729" y="539" width="7" height="4" fill="#26a69a"/>
<rect x="741" y="537" width="1" height="6" fill="#26a69a"/>
<rect x="738" y="537" width="7" height="1" fill="#26a69a"/>
<rect x="747" y="532" width="7" height="8" fill="#26a69a"/>
<rect x="756" y="530" width="7" height="8" fill="#26a69a"/>
<rect x="765" y="537" width="7" height="1" fill="#26a69a"/>
<rect x="777" y="532" width="1" height="6" fill="#ef5350"/>
<rect x="774" y="534" width="7" height="4" fill="#ef5350"/>
<rect x="783" y="530" width="7" height="5" fill="#26a69a"/>
<rect x="795" y="527" width="1" height="8" fill="#26a69a"/>
<rect x="792" y="527" width="7" height="4" fill="#26a69a"/>
<rect x="804" y="525" width="1" height="13" fill="#26a69a"/>
<rect x="801" y="532" width="7" height="6" fill="#26a69a"/>
<rect x="810" y="527" width="7" height="11" fill="#26a69a"/>
<rect x="819" y="527" width="7" height="8" fill="#ef5350"/>
<rect x="828" y="522" width="7" height="13" fill="#26a69a"/>
<rect x="837" y="510" width="7" height="13" fill="#26a69a"/>
<rect x="849" y="510" width="1" height="8" fill="#26a69a"/>
<rect x="846" y="510" width="7" height="3" fill="#26a69a"/>
<rect x="858" y="510" width="1" height="13" fill="#26a69a"/>
<rect x="855" y="512" width="7" height="11" fill="#26a69a"/>
<rect x="864" y="517" width="7" height="6" fill="#26a69a"/>
<rect x="876" y="510" width="1" height="8" fill="#26a69a"/>
<rect x="873" y="510" width="7" height="6" fill="#26a69a"/>
<rect x="882" y="510" width="7" height="6" fill="#ef5350"/>
<rect x="891" y="515" width="7" height="3" fill="#ef5350"/>
<rect x="900" y="520" width="7" height="1" fill="#26a69a"/>
<rect x="912" y="508" width="1" height="8" fill="#26a69a"/>
<rect x="909" y="510" width="7" height="6" fill="#26a69a"/>
<rect x="918" y="508" width="7" height="1" fill="#26a69a"/>
<rect x="930" y="505" width="1" height="8" fill="#ef5350"/>
<rect x="927" y="508" width="7" height="5" fill="#ef5350"/>
<rect x="939" y="505" width="1" height="6" fill="#ef5350"/>
<rect x="936" y="508" width="7" height="3" fill="#ef5350"/>
<rect x="945" y="510" width="7" height="1" fill="#26a69a"/>
<rect x="954" y="508" width="7" height="3" fill="#26a69a"/>
<rect x="963" y="508" width="7" height="1" fill="#26a69a"/>
<rect x="972" y="505" width="7" height="4" fill="#ef5350"/>
<rect x="981" y="508" width="7" height="1" fill="#26a69a"/>
<rect x="993" y="510" width="1" height="23" fill="#ef5350"/>
<rect x="990" y="512" width="7" height="19" fill="#ef5350"/>
<rect x="1002" y="517" width="1" height="14" fill="#26a69a"/>
<rect x="999" y="530" width="7" height="1" fill="#26a69a"/>
<rect x="1008" y="522" width="7" height="4" fill="#26a69a"/>
<rect x="1017" y="522" width="7" height="11" fill="#ef5350"/>
<rect x="1026" y="532" width="7" height="6" fill="#26a69a"/>
<rect x="1035" y="532" width="7" height="3" fill="#26a69a"/>
<rect x="1047" y="515" width="1" height="13" fill="#ef5350"/>
<rect x="1044" y="525" width="7" height="3" fill="#ef5350"/>
<rect x="1053" y="532" width="7" height="13" fill="#26a69a"/>
<rect x="1062" y="522" width="7" height="11" fill="#26a69a"/>
<rect x="1071" y="525" width="7" height="1" fill="#26a69a"/>
<rect x="1083" y="517" width="1" height="21" fill="#26a69a"/>
<rect x="1080" y="517" width="7" height="16" fill="#26a69a"/>
<rect x="1092" y="503" width="1" height="15" fill="#26a69a"/>
<rect x="1089" y="510" width="7" height="8" fill="#26a69a"/>
<rect x="1101" y="503" width="1" height="8" fill="#26a69a"/>
<rect x="1098" y="503" width="7" height="6" fill="#26a69a"/>
<rect x="1110" y="500" width="1" height="11" fill="#26a69a"/>
<rect x="1107" y="503" width="7" height="1" fill="#26a69a"/>
<rect x="1119" y="498" width="1" height="11" fill="#ef5350"/>
<rect x="1116" y="498" width="7" height="8" fill="#ef5350"/>
<rect x="1128" y="498" width="1" height="8" fill="#26a69a"/>
<rect x="1125" y="505" width="7" height="1" fill="#26a69a"/>
<rect x="1137" y="500" width="1" height="4" fill="#26a69a"/>
<rect x="1134" y="500" width="7" height="1" fill="#26a69a"/>
<rect x="1146" y="493" width="1" height="8" fill="#26a69a"/>
<rect x="1143" y="495" width="7" height="6" fill="#26a69a"/>
<rect x="1155" y="486" width="1" height="13" fill="#26a69a"/>
<rect x="1152" y="488" width="7" height="11" fill="#26a69a"/>
<rect x="1164" y="483" width="1" height="13" fill="#ef5350"/>
<rect x="1161" y="483" width="7" height="6" fill="#ef5350"/>
<rect x="1172" y="488" width="1" height="13" fill="#26a69a"/>
<rect x="1169" y="493" width="7" height="3" fill="#26a69a"/>
<rect x="1181" y="478" width="1" height="18" fill="#26a69a"/>
<rect x="1178" y="486" width="7" height="8" fill="#26a69a"/>
<rect x="1190" y="476" width="1" height="18" fill="#26a69a"/>
<rect x="1187" y="481" width="7" height="10" fill="#26a69a"/>
<rect x="1199" y="471" width="1" height="13" fill="#26a69a"/>
<rect x="1196" y="471" width="7" height="8" fill="#26a69a"/>
<rect x="1208" y="459" width="1" height="15" fill="#26a69a"/>
<rect x="1205" y="461" width="7" height="11" fill="#26a69a"/>
<rect x="1217" y="459" width="1" height="23" fill="#26a69a"/>
<rect x="1214" y="459" width="7" height="3" fill="#26a69a"/>
<rect x="1226" y="451" width="1" height="11" fill="#26a69a"/>
<rect x="1223" y="456" width="7" height="6" fill="#26a69a"/>
<rect x="1235" y="464" width="1" height="18" fill="#26a69a"/>
<rect x="1232" y="468" width="7" height="4" fill="#26a69a"/>
<rect x="1244" y="464" width="1" height="18" fill="#26a69a"/>
<rect x="1241" y="468" width="7" height="11" fill="#26a69a"/>
<rect x="1250" y="451" width="7" height="18" fill="#26a69a"/>
<rect x="1262" y="439" width="1" height="13" fill="#26a69a"/>
<rect x="1259" y="442" width="7" height="8" fill="#26a69a"/>
<rect x="1271" y="434" width="1" height="18" fill="#26a69a"/>
<rect x="1268" y="437" width="7" height="10" fill="#26a69a"/>
<rect x="1280" y="434" width="1" height="26" fill="#ef5350"/>
<rect x="1277" y="434" width="7" height="18" fill="#ef5350"/>
<rect x="1289" y="459" width="1" height="10" fill="#26a69a"/>
<rect x="1286" y="461" width="7" height="6" fill="#26a69a"/>
<rect x="1298" y="454" width="1" height="25" fill="#ef5350"/>
<rect x="1295" y="461" width="7" height="6" fill="#ef5350"/>
<rect x="1307" y="451" width="1" height="28" fill="#26a69a"/>
<rect x="1304" y="459" width="7" height="15" fill="#26a69a"/>
<rect x="1316" y="437" width="1" height="32" fill="#26a69a"/>
<rect x="1313" y="454" width="7" height="11" fill="#26a69a"/>
<rect x="1325" y="437" width="1" height="32" fill="#26a69a"/>
<rect x="1322" y="437" width="7" height="18" fill="#26a69a"/>
<rect x="1334" y="456" width="1" height="11" fill="#26a69a"/>
<rect x="1331" y="459" width="7" height="1" fill="#26a69a"/>
<rect x="1343" y="449" width="1" height="16" fill="#26a69a"/>
<rect x="1340" y="456" width="7" height="9" fill="#26a69a"/>
<rect x="1352" y="451" width="1" height="4" fill="#26a69a"/>
<rect x="1349" y="454" width="7" height="1" fill="#26a69a"/>
<rect x="1361" y="437" width="1" height="23" fill="#26a69a"/>
<rect x="1358" y="451" width="7" height="4" fill="#26a69a"/>
<rect x="1370" y="449" width="1" height="8" fill="#ef5350"/>
<rect x="1367" y="449" width="7" height="6" fill="#ef5350"/>
<rect x="1379" y="442" width="1" height="13" fill="#26a69a"/>
<rect x="1376" y="449" width="7" height="6" fill="#26a69a"/>
<rect x="1388" y="439" width="1" height="13" fill="#26a69a"/>
<rect x="1385" y="439" width="7" height="6" fill="#26a69a"/>
<rect x="1397" y="427" width="1" height="20" fill="#ef5350"/>
<rect x="1394" y="439" width="7" height="6" fill="#ef5350"/>
<rect x="1406" y="439" width="1" height="18" fill="#26a69a"/>
<rect x="1403" y="439" width="7" height="13" fill="#26a69a"/>
<rect x="1415" y="446" width="1" height="9" fill="#26a69a"/>
<rect x="1412" y="449" width="7" height="6" fill="#26a69a"/>
<rect x="1424" y="437" width="1" height="15" fill="#26a69a"/>
<rect x="1421" y="446" width="7" height="6" fill="#26a69a"/>
<rect x="1433" y="434" width="1" height="11" fill="#26a69a"/>
<rect x="1430" y="437" width="7" height="6" fill="#26a69a"/>
<rect x="1442" y="437" width="1" height="6" fill="#26a69a"/>
<rect x="1439" y="437" width="7" height="1" fill="#26a69a"/>
<rect x="1451" y="439" width="1" height="4" fill="#26a69a"/>
<rect x="1448" y="439" width="7" height="1" fill="#26a69a"/>
<rect x="1457" y="437" width="7" height="8" fill="#26a69a"/>
<rect x="1466" y="437" width="7" height="15" fill="#ef5350"/>
<rect x="1475" y="449" width="7" height="3" fill="#26a69a"/>
<rect x="1484" y="449" width="7" height="3" fill="#26a69a"/>
<rect x="1496" y="451" width="1" height="21" fill="#26a69a"/>
<rect x="1493" y="451" width="7" height="1" fill="#26a69a"/>
<rect x="1505" y="451" width="1" height="21" fill="#ef5350"/>
<rect x="1502" y="451" width="7" height="9" fill="#ef5350"/>
<rect x="1511" y="461" width="7" height="1" fill="#26a69a"/>
<rect x="1523" y="471" width="1" height="25" fill="#ef5350"/>
<rect x="1520" y="471" width="7" height="16" fill="#ef5350"/>
<rect x="1532" y="486" width="1" height="10" fill="#26a69a"/>
<rect x="1529" y="486" width="7" height="1" fill="#26a69a"/>
<rect x="1541" y="471" width="1" height="13" fill="#ef5350"/>
<rect x="1538" y="473" width="7" height="11" fill="#ef5350"/>
<rect x="1550" y="473" width="1" height="36" fill="#ef5350"/>
<rect x="1547" y="473" width="7" height="4" fill="#ef5350"/>
<rect x="1559" y="476" width="1" height="3" fill="#26a69a"/>
<rect x="1556" y="476" width="7" height="1" fill="#26a69a"/>
<rect x="1568" y="471" width="1" height="18" fill="#ef5350"/>
<rect x="1565" y="476" width="7" height="8" fill="#ef5350"/>
<rect x="1577" y="481" width="1" height="13" fill="#26a69a"/>
<rect x="1574" y="483" width="7" height="1" fill="#26a69a"/>
<rect x="1583" y="488" width="7" height="6" fill="#ef5350"/>
<rect x="1595" y="488" width="1" height="6" fill="#26a69a"/>
<rect x="1592" y="488" width="7" height="1" fill="#26a69a"/>
<rect x="1601" y="486" width="7" height="1" fill="#26a69a"/>
<rect x="1613" y="486" width="1" height="5" fill="#26a69a"/>
<rect x="1610" y="488" width="7" height="1" fill="#26a69a"/>
<rect x="1622" y="476" width="1" height="8" fill="#26a69a"/>
<rect x="1619" y="476" width="7" height="6" fill="#26a69a"/>
<rect x="1631" y="471" width="1" height="6" fill="#26a69a"/>
<rect x="1628" y="476" width="7" height="1" fill="#26a69a"/>
<rect x="1640" y="305" width="1" height="54" fill="#26a69a"/>
<rect x="1637" y="332" width="7" height="27" fill="#26a69a"/>
<rect x="1649" y="300" width="1" height="25" fill="#26a69a"/>
<rect x="1646" y="310" width="7" height="8" fill="#26a69a"/>
<rect x="1658" y="307" width="1" height="13" fill="#ef5350"/>
<rect x="1655" y="310" width="7" height="3" fill="#ef5350"/>
</g>
<path d="M4.3 580.3 L166.5 582.2 L265.0 582.4 L310.0 582.0 L346.0 580.6 L382.0 579.3 L444.4 575.6 L528.0 569.2 L561.6 566.8 L687.5 558.8 L790.0 552.4 L903.4 544.9 L993.5 538.1 L1052.0 536.0 L1083.5 534.8 L1163.4 528.5 L1244.5 521.6 L1314.0 514.2 L1370.7 509.7 L1433.7 503.5 L1496.7 497.2 L1550.7 493.4 L1586.3 491.6 L1613.4 489.7 L1631.4 488.6 L1640.3 486.8 L1649.3 484.5 L1658.3 482.3" fill="none" stroke="#f44336" stroke-opacity="0.92" stroke-width="1.25" stroke-linejoin="round"/>
<path d="M4.3 585.6 L67.5 581.6 L130.5 577.4 L166.5 574.3 L211.4 568.8 L262.0 565.0 L283.0 564.7 L310.0 561.8 L346.0 557.8 L382.0 556.1 L408.4 551.5 L444.4 545.2 L489.4 538.3 L525.5 536.5 L561.6 534.2 L615.6 533.6 L678.6 534.0 L696.5 535.2 L723.5 535.0 L759.5 534.0 L777.6 534.8 L794.0 534.4 L831.4 533.4 L867.4 529.6 L903.4 524.8 L939.6 520.2 L984.5 514.2 L1011.6 513.9 L1038.6 517.0 L1056.0 518.4 L1074.0 520.1 L1110.5 519.1 L1137.5 517.9 L1163.4 515.4 L1190.5 509.1 L1217.5 499.0 L1244.5 489.6 L1271.5 479.0 L1298.6 471.4 L1314.0 467.6 L1325.8 464.2 L1352.8 458.3 L1379.8 454.5 L1406.7 452.4 L1433.7 449.8 L1451.8 449.5 L1469.7 448.0 L1487.7 446.6 L1496.7 446.6 L1505.7 447.6 L1514.6 448.0 L1532.7 451.8 L1559.7 455.7 L1586.3 461.9 L1613.4 467.8 L1631.4 472.4 L1640.3 466.3 L1649.3 459.7 L1658.3 453.4" fill="none" stroke="#4caf50" stroke-opacity="1" stroke-width="1.1" stroke-linejoin="round"/>
<path d="M4.3 590.6 L67.5 587.2 L166.5 581.6 L265.0 575.8 L283.0 574.9 L346.0 568.8 L408.4 564.7 L444.4 560.0 L528.0 551.2 L561.6 549.0 L615.6 545.2 L687.5 540.2 L741.6 537.5 L790.0 535.5 L831.4 533.4 L903.4 530.2 L984.5 526.5 L1011.6 525.2 L1052.0 525.5 L1083.5 524.8 L1137.5 521.6 L1163.4 519.1 L1217.5 511.6 L1271.5 502.2 L1314.0 496.5 L1370.7 489.0 L1433.7 479.6 L1469.7 472.4 L1496.7 468.0 L1514.6 465.2 L1532.7 463.9 L1559.7 462.6 L1586.3 461.5 L1631.4 460.4 L1658.3 451.5" fill="none" stroke="#0d3b9c" stroke-opacity="1" stroke-width="1.15" stroke-linejoin="round"/>
<line x1="0" y1="312.5" x2="2092" y2="312.5" stroke="#ef5350" stroke-width="1" stroke-dasharray="1 2" shape-rendering="crispEdges"/>
<circle cx="68.86" cy="810.8" r="11.95" fill="none" stroke="#ffc107" stroke-width="1.85"/>
<text x="69.16" y="814.1" text-anchor="middle" font-family="Liberation Sans, sans-serif" font-weight="bold" font-size="12.4" textLength="7.6" lengthAdjust="spacingAndGlyphs" fill="#ffc107">D</text>
<circle cx="284.58" cy="810.8" r="11.95" fill="none" stroke="#008000" stroke-width="1.85"/>
<ellipse cx="285.08" cy="809.5" rx="3.05" ry="3.85" fill="none" stroke="#008000" stroke-width="1.35" stroke-opacity="0.92"/>
<path d="M285.18 813.3 Q286.78 815.5 289.88 815.4" fill="none" stroke="#008000" stroke-width="1.3" stroke-opacity="0.92"/>
<circle cx="671.09" cy="810.8" r="11.95" fill="none" stroke="#008000" stroke-width="1.85"/>
<ellipse cx="671.59" cy="809.5" rx="3.05" ry="3.85" fill="none" stroke="#008000" stroke-width="1.35" stroke-opacity="0.92"/>
<path d="M671.69 813.3 Q673.29 815.5 676.39 815.4" fill="none" stroke="#008000" stroke-width="1.3" stroke-opacity="0.92"/>
<circle cx="1228.38" cy="810.8" r="11.95" fill="none" stroke="#ff0000" stroke-width="1.85"/>
<ellipse cx="1228.88" cy="809.5" rx="3.05" ry="3.85" fill="none" stroke="#ff0000" stroke-width="1.35" stroke-opacity="0.92"/>
<path d="M1228.97 813.3 Q1230.58 815.5 1233.67 815.4" fill="none" stroke="#ff0000" stroke-width="1.3" stroke-opacity="0.92"/>
<circle cx="1758.70" cy="810.8" r="11.95" fill="none" stroke="#ffc107" stroke-width="1.85"/>
<text x="1759.00" y="814.1" text-anchor="middle" font-family="Liberation Sans, sans-serif" font-weight="bold" font-size="12.4" textLength="7.6" lengthAdjust="spacingAndGlyphs" fill="#ffc107">D</text>
<path d="M4.5 917.7 L13.5 898.4 L22.5 908.3 L31.5 913.0 L40.4 893.2 L49.4 897.9 L58.4 894.3 L67.4 899.3 L76.4 899.3 L85.4 899.3 L94.4 886.6 L103.4 886.7 L112.4 886.7 L121.3 886.7 L130.3 886.7 L139.3 877.9 L148.3 873.7 L157.3 873.7 L166.3 882.5 L175.3 882.5 L184.3 891.7 L193.2 880.9 L202.2 889.6 L211.2 889.7 L220.2 889.7 L229.2 878.4 L238.2 887.9 L247.2 888.1 L256.2 882.2 L265.2 908.0 L274.1 914.8 L283.1 915.0 L292.1 874.7 L301.1 893.4 L310.1 889.6 L319.1 863.1 L328.1 892.9 L337.1 885.9 L346.1 902.6 L355.0 908.5 L364.0 908.5 L373.0 902.9 L382.0 906.3 L391.0 892.4 L400.0 887.6 L409.0 880.9 L418.0 884.9 L426.9 884.9 L435.9 882.4 L444.9 882.4 L453.9 887.4 L462.9 887.4 L471.9 880.9 L480.9 886.6 L489.9 892.1 L498.9 888.2 L507.8 884.5 L516.8 891.2 L525.8 906.6 L534.8 898.3 L543.8 920.0 L552.8 926.9 L561.8 914.3 L570.8 910.1 L579.8 899.3 L588.7 899.3 L597.7 895.8 L606.7 892.4 L615.7 902.1 L624.7 906.8 L633.7 902.6 L642.7 902.8 L651.7 902.8 L660.6 897.9 L669.6 897.9 L678.6 897.9 L687.6 911.3 L696.6 938.4 L705.6 899.6 L714.6 917.2 L723.6 920.2 L732.6 916.7 L741.5 913.0 L750.5 905.8 L759.5 902.4 L768.5 913.5 L777.5 913.5 L786.5 902.6 L795.5 899.1 L804.5 907.5 L813.5 900.4 L822.4 912.1 L831.4 896.8 L840.4 882.9 L849.4 882.9 L858.4 887.4 L867.4 895.4 L876.4 887.6 L885.4 895.4 L894.4 899.6 L903.3 903.5 L912.3 891.2 L921.3 888.4 L930.3 896.8 L939.3 893.7 L948.3 893.7 L957.3 890.4 L966.3 890.1 L975.2 890.2 L984.2 890.4 L993.2 930.6 L1002.2 930.6 L1011.2 917.3 L1020.2 930.4 L1029.2 930.4 L1038.2 930.4 L1047.2 921.0 L1056.1 928.0 L1065.1 911.0 L1074.1 914.7 L1083.1 903.3 L1092.1 893.4 L1101.1 884.9 L1110.1 884.9 L1119.1 889.6 L1128.1 889.6 L1137.0 883.7 L1146.0 877.9 L1155.0 869.5 L1164.0 869.5 L1173.0 881.2 L1182.0 873.2 L1191.0 867.8 L1200.0 859.5 L1208.9 852.8 L1217.9 851.4 L1226.9 849.9 L1235.9 876.2 L1244.9 876.2 L1253.9 862.5 L1262.9 856.4 L1271.9 853.6 L1280.9 878.7 L1289.8 892.4 L1298.8 898.8 L1307.8 891.7 L1316.8 887.1 L1325.8 874.5 L1334.8 900.4 L1343.8 898.8 L1352.8 896.6 L1361.8 894.3 L1370.7 897.4 L1379.7 893.2 L1388.7 884.5 L1397.7 890.9 L1406.7 886.7 L1415.7 899.6 L1424.7 897.1 L1433.7 888.4 L1442.6 888.4 L1451.6 891.7 L1460.6 889.2 L1469.6 909.3 L1478.6 906.8 L1487.6 906.6 L1496.6 910.0 L1505.6 920.0 L1514.6 923.0 L1523.5 946.4 L1532.5 946.4 L1541.5 942.3 L1550.5 931.1 L1559.5 931.1 L1568.5 938.4 L1577.5 938.6 L1586.5 947.8 L1595.5 939.4 L1604.4 935.2 L1613.4 937.6 L1622.4 917.7 L1631.4 917.7 L1640.4 843.9 L1649.4 840.6 L1658.4 842.7" fill="none" stroke="#7e57c2" stroke-width="1.1" stroke-linejoin="round"/>
<g shape-rendering="crispEdges">
<rect x="4" y="1103" width="1" height="10" fill="#f44336"/>
<rect x="13" y="1104" width="1" height="9" fill="#f44336"/>
<rect x="22" y="1106" width="1" height="7" fill="#f44336"/>
<rect x="31" y="1107" width="1" height="6" fill="#f44336"/>
<rect x="40" y="1105" width="1" height="8" fill="#009688"/>
<rect x="49" y="1101" width="1" height="12" fill="#009688"/>
<rect x="58" y="1101" width="1" height="12" fill="#f44336"/>
<rect x="67" y="1101" width="1" height="12" fill="#f44336"/>
<rect x="76" y="1099" width="1" height="14" fill="#009688"/>
<rect x="85" y="1098" width="1" height="15" fill="#009688"/>
<rect x="94" y="1096" width="1" height="17" fill="#009688"/>
<rect x="103" y="1094" width="1" height="19" fill="#009688"/>
<rect x="112" y="1092" width="1" height="21" fill="#009688"/>
<rect x="121" y="1091" width="1" height="22" fill="#009688"/>
<rect x="130" y="1090" width="1" height="23" fill="#009688"/>
<rect x="139" y="1090" width="1" height="23" fill="#f44336"/>
<rect x="148" y="1090" width="1" height="23" fill="#009688"/>
<rect x="157" y="1089" width="1" height="24" fill="#009688"/>
<rect x="166" y="1091" width="1" height="22" fill="#f44336"/>
<rect x="175" y="1090" width="1" height="23" fill="#009688"/>
<rect x="184" y="1091" width="1" height="22" fill="#f44336"/>
<rect x="193" y="1093" width="1" height="20" fill="#f44336"/>
<rect x="202" y="1094" width="1" height="19" fill="#f44336"/>
<rect x="211" y="1093" width="1" height="20" fill="#009688"/>
<rect x="220" y="1094" width="1" height="19" fill="#f44336"/>
<rect x="229" y="1094" width="1" height="19" fill="#009688"/>
<rect x="238" y="1094" width="1" height="19" fill="#009688"/>
<rect x="247" y="1093" width="1" height="20" fill="#009688"/>
<rect x="256" y="1092" width="1" height="21" fill="#009688"/>
<rect x="265" y="1092" width="1" height="21" fill="#f44336"/>
<rect x="274" y="1096" width="1" height="17" fill="#f44336"/>
<rect x="283" y="1099" width="1" height="14" fill="#f44336"/>
<rect x="292" y="1096" width="1" height="17" fill="#009688"/>
<rect x="301" y="1096" width="1" height="17" fill="#009688"/>
<rect x="310" y="1095" width="1" height="18" fill="#009688"/>
<rect x="319" y="1087" width="1" height="26" fill="#009688"/>
<rect x="328" y="1081" width="1" height="32" fill="#009688"/>
<rect x="337" y="1082" width="1" height="31" fill="#f44336"/>
<rect x="346" y="1083" width="1" height="30" fill="#f44336"/>
<rect x="355" y="1083" width="1" height="30" fill="#f44336"/>
<rect x="364" y="1087" width="1" height="26" fill="#f44336"/>
<rect x="373" y="1089" width="1" height="24" fill="#f44336"/>
<rect x="382" y="1094" width="1" height="19" fill="#f44336"/>
<rect x="390" y="1094" width="1" height="19" fill="#f44336"/>
<rect x="399" y="1090" width="1" height="23" fill="#009688"/>
<rect x="408" y="1086" width="1" height="27" fill="#009688"/>
<rect x="417" y="1081" width="1" height="32" fill="#009688"/>
<rect x="426" y="1076" width="1" height="37" fill="#009688"/>
<rect x="435" y="1073" width="1" height="40" fill="#009688"/>
<rect x="444" y="1073" width="1" height="40" fill="#f44336"/>
<rect x="453" y="1074" width="1" height="39" fill="#f44336"/>
<rect x="462" y="1074" width="1" height="39" fill="#f44336"/>
<rect x="471" y="1074" width="1" height="39" fill="#f44336"/>
<rect x="480" y="1075" width="1" height="38" fill="#f44336"/>
<rect x="489" y="1077" width="1" height="36" fill="#f44336"/>
<rect x="498" y="1078" width="1" height="35" fill="#f44336"/>
<rect x="507" y="1080" width="1" height="33" fill="#f44336"/>
<rect x="516" y="1082" width="1" height="31" fill="#f44336"/>
<rect x="525" y="1085" width="1" height="28" fill="#f44336"/>
<rect x="534" y="1088" width="1" height="25" fill="#f44336"/>
<rect x="543" y="1094" width="1" height="19" fill="#f44336"/>
<rect x="552" y="1101" width="1" height="12" fill="#f44336"/>
<rect x="561" y="1111" width="1" height="2" fill="#f44336"/>
<rect x="570" y="1112" width="1" height="3" fill="#f44336"/>
<rect x="579" y="1112" width="1" height="3" fill="#f44336"/>
<rect x="588" y="1112" width="1" height="1" fill="#009688"/>
<rect x="597" y="1107" width="1" height="6" fill="#009688"/>
<rect x="606" y="1100" width="1" height="13" fill="#009688"/>
<rect x="615" y="1101" width="1" height="12" fill="#f44336"/>
<rect x="624" y="1103" width="1" height="10" fill="#f44336"/>
<rect x="633" y="1105" width="1" height="8" fill="#f44336"/>
<rect x="642" y="1106" width="1" height="7" fill="#f44336"/>
<rect x="651" y="1106" width="1" height="7" fill="#f44336"/>
<rect x="660" y="1104" width="1" height="9" fill="#009688"/>
<rect x="669" y="1102" width="1" height="11" fill="#009688"/>
<rect x="678" y="1102" width="1" height="11" fill="#009688"/>
<rect x="687" y="1106" width="1" height="7" fill="#f44336"/>
<rect x="696" y="1112" width="1" height="1" fill="#f44336"/>
<rect x="705" y="1112" width="1" height="5" fill="#f44336"/>
<rect x="714" y="1112" width="1" height="9" fill="#f44336"/>
<rect x="723" y="1112" width="1" height="13" fill="#f44336"/>
<rect x="732" y="1112" width="1" height="14" fill="#f44336"/>
<rect x="741" y="1112" width="1" height="11" fill="#009688"/>
<rect x="750" y="1112" width="1" height="10" fill="#009688"/>
<rect x="759" y="1112" width="1" height="8" fill="#009688"/>
<rect x="768" y="1112" width="1" height="6" fill="#009688"/>
<rect x="777" y="1112" width="1" height="3" fill="#009688"/>
<rect x="786" y="1111" width="1" height="2" fill="#009688"/>
<rect x="795" y="1109" width="1" height="4" fill="#009688"/>
<rect x="804" y="1108" width="1" height="5" fill="#009688"/>
<rect x="813" y="1106" width="1" height="7" fill="#009688"/>
<rect x="822" y="1104" width="1" height="9" fill="#009688"/>
<rect x="831" y="1103" width="1" height="10" fill="#009688"/>
<rect x="840" y="1099" width="1" height="14" fill="#009688"/>
<rect x="849" y="1094" width="1" height="19" fill="#009688"/>
<rect x="858" y="1090" width="1" height="23" fill="#009688"/>
<rect x="867" y="1087" width="1" height="26" fill="#009688"/>
<rect x="876" y="1083" width="1" height="30" fill="#009688"/>
<rect x="885" y="1083" width="1" height="30" fill="#009688"/>
<rect x="894" y="1084" width="1" height="29" fill="#f44336"/>
<rect x="903" y="1086" width="1" height="27" fill="#f44336"/>
<rect x="912" y="1084" width="1" height="29" fill="#009688"/>
<rect x="921" y="1084" width="1" height="29" fill="#009688"/>
<rect x="930" y="1084" width="1" height="29" fill="#009688"/>
<rect x="939" y="1082" width="1" height="31" fill="#009688"/>
<rect x="948" y="1079" width="1" height="34" fill="#009688"/>
<rect x="957" y="1079" width="1" height="34" fill="#f44336"/>
<rect x="966" y="1080" width="1" height="33" fill="#f44336"/>
<rect x="975" y="1081" width="1" height="32" fill="#f44336"/>
<rect x="984" y="1082" width="1" height="31" fill="#f44336"/>
<rect x="993" y="1087" width="1" height="26" fill="#f44336"/>
<rect x="1002" y="1094" width="1" height="19" fill="#f44336"/>
<rect x="1011" y="1101" width="1" height="12" fill="#f44336"/>
<rect x="1020" y="1109" width="1" height="4" fill="#f44336"/>
<rect x="1029" y="1112" width="1" height="9" fill="#f44336"/>
<rect x="1038" y="1112" width="1" height="14" fill="#f44336"/>
<rect x="1047" y="1112" width="1" height="14" fill="#f44336"/>
<rect x="1056" y="1112" width="1" height="19" fill="#f44336"/>
<rect x="1065" y="1112" width="1" height="20" fill="#f44336"/>
<rect x="1074" y="1112" width="1" height="17" fill="#009688"/>
<rect x="1083" y="1112" width="1" height="15" fill="#009688"/>
<rect x="1092" y="1112" width="1" height="12" fill="#009688"/>
<rect x="1101" y="1112" width="1" height="1" fill="#009688"/>
<rect x="1110" y="1105" width="1" height="8" fill="#009688"/>
<rect x="1119" y="1098" width="1" height="15" fill="#009688"/>
<rect x="1128" y="1090" width="1" height="23" fill="#009688"/>
<rect x="1137" y="1089" width="1" height="24" fill="#009688"/>
<rect x="1146" y="1086" width="1" height="27" fill="#009688"/>
<rect x="1155" y="1082" width="1" height="31" fill="#009688"/>
<rect x="1164" y="1079" width="1" height="34" fill="#009688"/>
<rect x="1172" y="1077" width="1" height="36" fill="#009688"/>
<rect x="1181" y="1073" width="1" height="40" fill="#009688"/>
<rect x="1190" y="1070" width="1" height="43" fill="#009688"/>
<rect x="1199" y="1067" width="1" height="46" fill="#009688"/>
<rect x="1208" y="1061" width="1" height="52" fill="#009688"/>
<rect x="1217" y="1054" width="1" height="59" fill="#009688"/>
<rect x="1226" y="1045" width="1" height="68" fill="#009688"/>
<rect x="1235" y="1043" width="1" height="70" fill="#009688"/>
<rect x="1244" y="1043" width="1" height="70" fill="#f44336"/>
<rect x="1253" y="1043" width="1" height="70" fill="#f44336"/>
<rect x="1262" y="1037" width="1" height="76" fill="#009688"/>
<rect x="1271" y="1036" width="1" height="77" fill="#009688"/>
<rect x="1280" y="1030" width="1" height="83" fill="#009688"/>
<rect x="1289" y="1029" width="1" height="84" fill="#009688"/>
<rect x="1298" y="1034" width="1" height="79" fill="#f44336"/>
<rect x="1307" y="1045" width="1" height="68" fill="#f44336"/>
<rect x="1316" y="1053" width="1" height="60" fill="#f44336"/>
<rect x="1325" y="1059" width="1" height="54" fill="#f44336"/>
<rect x="1334" y="1062" width="1" height="51" fill="#f44336"/>
<rect x="1343" y="1063" width="1" height="50" fill="#f44336"/>
<rect x="1352" y="1062" width="1" height="51" fill="#009688"/>
<rect x="1361" y="1065" width="1" height="48" fill="#f44336"/>
<rect x="1370" y="1069" width="1" height="44" fill="#f44336"/>
<rect x="1379" y="1068" width="1" height="45" fill="#009688"/>
<rect x="1388" y="1069" width="1" height="44" fill="#f44336"/>
<rect x="1397" y="1067" width="1" height="46" fill="#009688"/>
<rect x="1406" y="1070" width="1" height="43" fill="#f44336"/>
<rect x="1415" y="1072" width="1" height="41" fill="#f44336"/>
<rect x="1424" y="1074" width="1" height="39" fill="#f44336"/>
<rect x="1433" y="1075" width="1" height="38" fill="#f44336"/>
<rect x="1442" y="1080" width="1" height="33" fill="#f44336"/>
<rect x="1451" y="1080" width="1" height="33" fill="#f44336"/>
<rect x="1460" y="1079" width="1" height="34" fill="#009688"/>
<rect x="1469" y="1082" width="1" height="31" fill="#f44336"/>
<rect x="1478" y="1088" width="1" height="25" fill="#f44336"/>
<rect x="1487" y="1095" width="1" height="18" fill="#f44336"/>
<rect x="1496" y="1104" width="1" height="9" fill="#f44336"/>
<rect x="1505" y="1112" width="1" height="2" fill="#f44336"/>
<rect x="1514" y="1112" width="1" height="8" fill="#f44336"/>
<rect x="1523" y="1112" width="1" height="20" fill="#f44336"/>
<rect x="1532" y="1112" width="1" height="33" fill="#f44336"/>
<rect x="1541" y="1112" width="1" height="39" fill="#f44336"/>
<rect x="1550" y="1112" width="1" height="49" fill="#f44336"/>
<rect x="1559" y="1112" width="1" height="54" fill="#f44336"/>
<rect x="1568" y="1112" width="1" height="51" fill="#009688"/>
<rect x="1577" y="1112" width="1" height="47" fill="#009688"/>
<rect x="1586" y="1112" width="1" height="50" fill="#f44336"/>
<rect x="1595" y="1112" width="1" height="48" fill="#009688"/>
<rect x="1604" y="1112" width="1" height="50" fill="#f44336"/>
<rect x="1613" y="1112" width="1" height="52" fill="#f44336"/>
<rect x="1622" y="1112" width="1" height="48" fill="#009688"/>
<rect x="1631" y="1112" width="1" height="41" fill="#009688"/>
<rect x="1640" y="1099" width="1" height="14" fill="#009688"/>
<rect x="1649" y="1041" width="1" height="72" fill="#009688"/>
<rect x="1658" y="982" width="1" height="131" fill="#009688"/>
</g>
<g font-family="Liberation Sans, sans-serif">
<text x="2101" y="84.2" font-size="11.7" fill="#131722">4.200</text>
<text x="2101" y="133.1" font-size="11.7" fill="#131722">4.000</text>
<text x="2101" y="181.9" font-size="11.7" fill="#131722">3.800</text>
<text x="2101" y="230.8" font-size="11.7" fill="#131722">3.600</text>
<text x="2101" y="279.7" font-size="11.7" fill="#131722">3.400</text>
<text x="2101" y="328.5" font-size="11.7" fill="#131722">3.200</text>
<text x="2101" y="377.4" font-size="11.7" fill="#131722">3.000</text>
<text x="2101" y="426.3" font-size="11.7" fill="#131722">2.800</text>
<text x="2101" y="475.1" font-size="11.7" fill="#131722">2.600</text>
<text x="2101" y="524.0" font-size="11.7" fill="#131722">2.400</text>
<text x="2101" y="572.9" font-size="11.7" fill="#131722">2.200</text>
<text x="2101" y="621.7" font-size="11.7" fill="#131722">2.000</text>
<text x="2101" y="670.6" font-size="11.7" fill="#131722">1.800</text>
<text x="2101" y="719.5" font-size="11.7" fill="#131722">1.600</text>
<text x="2101" y="768.3" font-size="11.7" fill="#131722">1.400</text>
<text x="2101" y="817.2" font-size="11.7" fill="#131722">1.200</text>
<text x="2101" y="854.7" font-size="11.7" fill="#131722">80.0000</text>
<text x="2101" y="895.5" font-size="11.7" fill="#131722">60.0000</text>
<text x="2101" y="936.5" font-size="11.7" fill="#131722">40.0000</text>
<text x="2101" y="977.7" font-size="11.7" fill="#131722">0.3000</text>
<text x="2101" y="1023.7" font-size="11.7" fill="#131722">0.2000</text>
<text x="2101" y="1069.7" font-size="11.7" fill="#131722">0.1000</text>
<text x="2101" y="1116.5" font-size="11.7" fill="#131722">0.0000</text>
<text x="2101" y="1162.7" font-size="11.7" fill="#131722">−0.1000</text>
<rect x="2092" y="303" width="47" height="19" fill="#ef5350" shape-rendering="crispEdges"/>
<rect x="2092" y="312" width="4" height="1" fill="#fff" shape-rendering="crispEdges"/>
<text x="2101" y="316.8" font-size="11.7" font-weight="bold" fill="#fff">3.250</text>
<text x="67.4" y="1203.8" text-anchor="middle" font-size="12" fill="#131722">16</text>
<text x="166.3" y="1203.8" text-anchor="middle" font-size="12" fill="#131722">Sep</text>
<text x="265.2" y="1203.8" text-anchor="middle" font-size="12" fill="#131722">20</text>
<text x="346.1" y="1203.8" text-anchor="middle" font-size="12" fill="#131722">Oct</text>
<text x="444.9" y="1203.8" text-anchor="middle" font-size="12" fill="#131722">18</text>
<text x="525.8" y="1203.8" text-anchor="middle" font-size="12" fill="#131722">Nov</text>
<text x="606.7" y="1203.8" text-anchor="middle" font-size="12" fill="#131722">15</text>
<text x="714.6" y="1203.8" text-anchor="middle" font-size="12" fill="#131722">Dec</text>
<text x="813.5" y="1203.8" text-anchor="middle" font-size="12" fill="#131722">20</text>
<text x="903.3" y="1203.8" text-anchor="middle" font-size="12" font-weight="bold" fill="#131722">2022</text>
<text x="993.2" y="1203.8" text-anchor="middle" font-size="12" fill="#131722">17</text>
<text x="1083.1" y="1203.8" text-anchor="middle" font-size="12" fill="#131722">Feb</text>
<text x="1164.0" y="1203.8" text-anchor="middle" font-size="12" fill="#131722">16</text>
<text x="1244.9" y="1203.8" text-anchor="middle" font-size="12" fill="#131722">Mar</text>
<text x="1325.8" y="1203.8" text-anchor="middle" font-size="12" fill="#131722">14</text>
<text x="1451.6" y="1203.8" text-anchor="middle" font-size="12" fill="#131722">Apr</text>
<text x="1550.5" y="1203.8" text-anchor="middle" font-size="12" fill="#131722">18</text>
<text x="1631.4" y="1203.8" text-anchor="middle" font-size="12" fill="#131722">May</text>
<text x="1712.3" y="1203.8" text-anchor="middle" font-size="12" fill="#131722">18</text>
<text x="1802.2" y="1203.8" text-anchor="middle" font-size="12" fill="#131722">Jun</text>
<text x="1919.0" y="1203.8" text-anchor="middle" font-size="12" fill="#131722">20</text>
<text x="1999.9" y="1203.8" text-anchor="middle" font-size="12" fill="#131722">Jul</text>
<text x="2080.8" y="1203.8" text-anchor="middle" font-size="12" fill="#131722">14</text>
</g>
<g font-family="Liberation Mono, monospace" font-size="11" letter-spacing="-0.6" fill="#131722">
<text x="9.4" y="55.6">Volume</text>
<text x="9.4" y="75.5">Moving Average Triple (20, 50, 100, Simple)</text>
<text x="9.4" y="842.4">RSI (14)</text>
<text x="9.4" y="975.4">AO</text>
</g>
<text x="4.4" y="30.8" font-family="Liberation Mono, monospace" font-size="11.6" font-weight="bold" letter-spacing="0.04" fill="#000" xml:space="preserve">FBMKLCI:FAVCO,D  O:3.260 H:3.270 L:3.220 C:3.250</text>
<text x="27.6" y="14.9" font-family="Liberation Sans, sans-serif" font-size="11" textLength="327.4" lengthAdjust="spacingAndGlyphs" fill="#404040">Published by Syirain Sa on KlseScreener.com, May 10 2022, 11:52 MYT.</text>
<g>
<rect x="6" y="2" width="15" height="14.5" fill="#f4f2ee"/>
<rect x="20.3" y="2" width="0.8" height="9" fill="#dcdad6"/>
<path d="M6.3 5.6 L9.5 5.8 L12 7.8 L14.5 9.9 L15.6 10.4 L17.4 8.4 L19 9.9 L21 13 L21 16.5 L6.3 16.5 Z" fill="#8fd8c8"/>
<path d="M6.3 8.8 L8.3 8 L10 9.6 L11.5 8.3 L14 11 L15.6 12 L17.3 10 L19 12 L21 15.2 L21 16.5 L6.3 16.5 Z" fill="#f9a30c"/>
<path d="M6.6 5.6 L9.5 5.9 L12 7.9 L14.5 10 L15.6 10.5 L17.4 8.5 L19 10 L21 13.2" fill="none" stroke="#12b894" stroke-width="1.7" stroke-linejoin="round"/>
<line x1="5.6" y1="2" x2="5.6" y2="17" stroke="#000" stroke-width="1.5" stroke-dasharray="1.5 0.9"/>
<rect x="5.8" y="16.2" width="15.3" height="1.9" fill="#000"/>
<rect x="15.3" y="17.4" width="0.8" height="0.8" fill="#fff"/>
</g>
</svg>
</body></html>
